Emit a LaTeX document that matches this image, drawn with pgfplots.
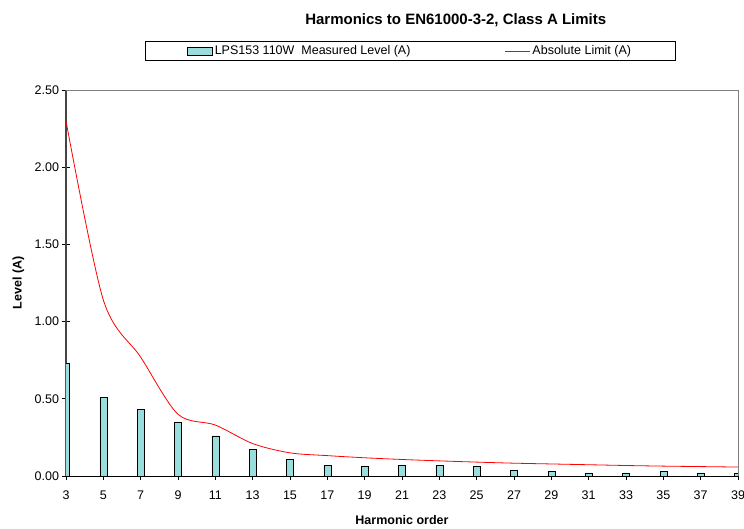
\documentclass[border=0pt]{standalone}
\usepackage{fontspec}
\setmainfont{Liberation Sans}
\usepackage{pgfplots}
\pgfplotsset{compat=1.18}

\definecolor{barfill}{HTML}{99DDDD}
\definecolor{leftaxis}{HTML}{444444}
\definecolor{limitred}{HTML}{FF0000}

\pgfplotsset{
    barlegend/.style={legend image code/.code={\draw[fill=barfill, draw=black, line width=0.8pt] (0pt,-4pt) rectangle (25pt,4pt);}},
    linelegend/.style={legend image code/.code={\draw[draw=limitred, color=limitred, line width=1pt] (0pt,0pt) -- (25pt,0pt);}},
}

\begin{document}
\begin{tikzpicture}
\begin{axis}[
    scale only axis,
    width=672pt, height=386pt,
    xmin=3, xmax=39,
    ymin=0, ymax=2.5,
    xtick={3,5,...,39},
    ytick={0,0.5,1,1.5,2,2.5},
    yticklabel style={/pgf/number format/.cd, fixed, fixed zerofill, precision=2},
    /pgf/number format/assume math mode=true,
    tick label style={font=\fontsize{12.5}{14}\selectfont},
    xticklabel style={yshift=-8pt},
    axis x line*=bottom,
    axis y line*=left,
    x axis line style={black, line width=0.8pt, -},
    y axis line style={leftaxis, line width=2pt, -},
    tick align=center,
    major tick length=7pt,
    tick style={black, line width=0.8pt},
    title={Harmonics to EN61000-3-2, Class A Limits},
    title style={at={(axis description cs:0.580,1.165)}, anchor=center,
        font=\bfseries\fontsize{15}{17}\selectfont},
    xlabel={Harmonic order},
    xlabel style={at={(axis description cs:0.5,-0.114)}, anchor=center,
        font=\bfseries\fontsize{12.5}{14}\selectfont},
    ylabel={Level (A)},
    ylabel style={at={(axis description cs:-0.071,0.5)}, anchor=center,
        font=\bfseries\fontsize{12.5}{14}\selectfont},
    legend columns=2,
    legend style={at={(0.512,1.101)}, anchor=center, draw=black, line width=0.6pt,
        font=\fontsize{12.5}{14}\selectfont, inner xsep=42pt, inner ysep=2pt,
        /tikz/every even column/.append style={column sep=92pt}},
]
\addplot[ybar, bar width=7pt, fill=barfill, draw=black, line width=0.6pt, barlegend]
    coordinates {(3,0.73) (5,0.51) (7,0.43) (9,0.35) (11,0.26) (13,0.17)
    (15,0.11) (17,0.07) (19,0.06) (21,0.07) (23,0.07) (25,0.06) (27,0.04)
    (29,0.03) (31,0.02) (33,0.02) (35,0.03) (37,0.02) (39,0.02)};
\addlegendentry{LPS153 110W\ \ Measured Level (A)}
\addplot[limitred, line width=0.8pt, smooth, no markers, linelegend]
    coordinates {(3,2.30) (5,1.14) (7,0.77) (9,0.40) (11,0.33) (13,0.21)
    (15,0.15) (17,0.132) (19,0.118) (21,0.107) (23,0.098) (25,0.09) (27,0.083)
    (29,0.078) (31,0.073) (33,0.068) (35,0.064) (37,0.061) (39,0.058)};
\addlegendentry{Absolute Limit (A)}
\end{axis}
\draw[gray, line width=0.8pt] (current axis.north west) -- (current axis.north east) -- (current axis.south east);
\pgfresetboundingbox
\useasboundingbox ([xshift=-66pt,yshift=-52pt]current axis.south west) rectangle ([xshift=6pt,yshift=90pt]current axis.north east);
\end{tikzpicture}
\end{document}
